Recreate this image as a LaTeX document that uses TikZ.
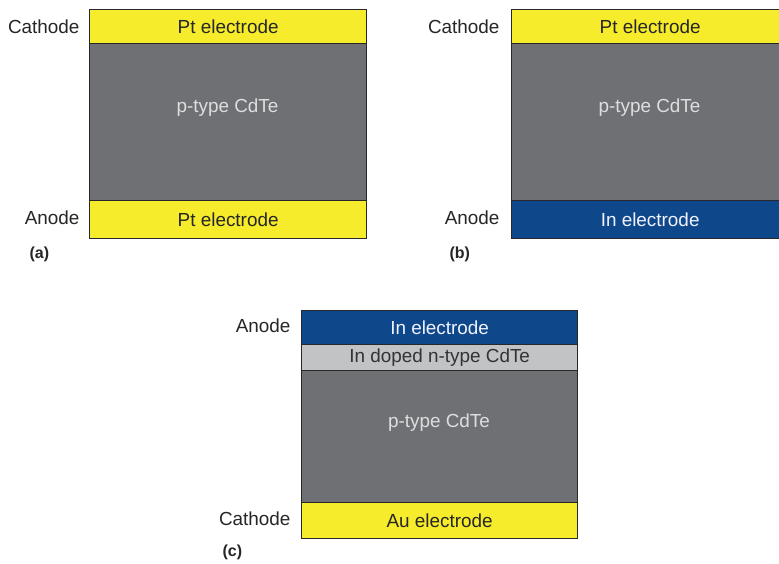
\documentclass[tikz,border=0pt]{standalone}
\usepackage{fontspec}
\setmainfont{Liberation Sans}
\definecolor{ptyellow}{RGB}{246,236,44}
\definecolor{cdtegray}{RGB}{110,112,115}
\definecolor{inblue}{RGB}{14,72,138}
\definecolor{ndoped}{RGB}{194,195,197}
\definecolor{edge}{RGB}{40,40,42}
\definecolor{paletext}{RGB}{222,222,224}
\tikzset{
  layer/.style={draw=edge, line width=1.3pt, inner sep=0pt, anchor=north west,
    minimum width=277pt, font=\fontsize{18.9}{22}\selectfont},
  metalY/.style={layer, fill=ptyellow, text=black!85},
  metalB/.style={layer, fill=inblue, text=white!95!blue},
  bulk/.style={layer, fill=cdtegray},
  nlayer/.style={layer, fill=ndoped, text=black!80},
  bulktext/.style={text=paletext, font=\fontsize{18.9}{22}\selectfont},
  side/.style={anchor=east, text=black!85, font=\fontsize{18.9}{22}\selectfont},
  tag/.style={anchor=west, text=black!85, font=\fontsize{16}{19}\selectfont\bfseries}
}
\begin{document}
\begin{tikzpicture}[x=1pt, y=-1pt]
\useasboundingbox (0,0) rectangle (779,564);
\fill[white] (0,0) rectangle (779,564);
\clip (0,0) rectangle (779,564);

% (a) Pt / p-CdTe / Pt
\node[bulk, minimum height=157pt] (aBulk) at (89,43) {};
\node[metalY, minimum height=34pt] (aTop) at (89,9) {Pt electrode};
\node[metalY, minimum height=38pt] (aBot) at (89,200) {Pt electrode};
\node[bulktext] (aBulkTxt) at (227.5,108) {p-type CdTe};
\node[side] (aCath) at (83,27) {Cathode};
\node[side] (aAn) at (83,218) {Anode};
\node[tag] (aTag) at (26,254) {(a)};

% (b) Pt / p-CdTe / In
\node[bulk, minimum height=157pt] (bBulk) at (511,43) {};
\node[metalY, minimum height=34pt] (bTop) at (511,9) {Pt electrode};
\node[metalB, minimum height=38pt] (bBot) at (511,200) {In electrode};
\node[bulktext] (bBulkTxt) at (649.5,108) {p-type CdTe};
\node[side] (bCath) at (503,27) {Cathode};
\node[side] (bAn) at (503,218) {Anode};
\node[tag] (bTag) at (446,254) {(b)};

% (c) In / n-CdTe:In / p-CdTe / Au
\node[bulk, minimum height=132pt, minimum width=276pt] (cBulk) at (301,370) {};
\node[nlayer, minimum height=26pt, minimum width=276pt] (cN) at (301,344) {In doped n-type CdTe};
\node[metalB, minimum height=34pt, minimum width=276pt] (cTop) at (301,310) {In electrode};
\node[metalY, minimum height=36pt, minimum width=276pt] (cBot) at (301,502) {Au electrode};
\node[bulktext] (cBulkTxt) at (439,423) {p-type CdTe};
\node[side] (cAn) at (294,326) {Anode};
\node[side] (cCath) at (294,519) {Cathode};
\node[tag] (cTag) at (219,552) {(c)};
\end{tikzpicture}
\end{document}
